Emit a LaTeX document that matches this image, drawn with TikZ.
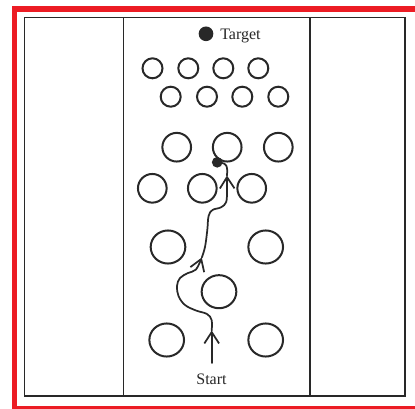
\documentclass[tikz,border=0pt]{standalone}
\usepackage{fontspec}
\setmainfont{Liberation Serif}
\usetikzlibrary{arrows.meta,shapes.geometric}
\definecolor{framered}{RGB}{236,28,36}
\definecolor{ink}{RGB}{40,40,40}
\tikzset{
  obst/.style={circle,draw=ink,line width=1.5pt,inner sep=0pt},
  bigobst/.style={ellipse,draw=ink,line width=1.5pt,inner sep=0pt,minimum width=26pt,minimum height=24.8pt},
  field/.style={draw=ink,line width=1.4pt},
  trail/.style={draw=ink,line width=1.3pt,line cap=round,line join=round},
  barb/.style={-{Straight Barb[length=8.5pt,width=11pt]}},
  lbl/.style={font=\fontsize{12pt}{14pt}\selectfont,text=ink,inner sep=0pt},
}
\begin{document}
\begin{tikzpicture}[x=0.75pt,y=-0.75pt]
\useasboundingbox (0,0) rectangle (415,408);
\clip (0,0) rectangle (415,408);
\fill[white] (0,0) rectangle (415,408);
% outer red frame
\draw[framered,line width=4.2pt] (14.5,9) rectangle (430,409);
% field and its three lanes
\draw[field] (24.5,17.5) rectangle (405,396);
\draw[field] (123.5,17.5) -- (123.5,396);
\draw[field] (310,17.5) -- (310,396);
% target marker
\node[circle,fill=ink,inner sep=0pt,minimum size=11pt] (tgt) at (206,33.8) {};
\node[lbl,anchor=base west] (tlbl) at (220,39.5) {Target};
% small cones, two staggered rows
\foreach \x [count=\i] in {152.5,188.3,223.3,258.3}
  \node[obst,minimum size=15pt] (a\i) at (\x,68.3) {};
\foreach \x [count=\i] in {170.7,207,242.3,278.3}
  \node[obst,minimum size=15pt] (b\i) at (\x,96.7) {};
% medium cones
\foreach \x [count=\i] in {176.7,227.2,278.3}
  \node[obst,minimum size=21.5pt] (c\i) at (\x,147.2) {};
\foreach \x [count=\i] in {152.3,202.3,251.7}
  \node[obst,minimum size=21.5pt] (d\i) at (\x,188.3) {};
% large cones
\node[bigobst] (e1) at (168,247) {};
\node[bigobst] (e2) at (265.7,247) {};
\node[bigobst] (f1) at (219,291.7) {};
\node[bigobst] (g1) at (166.7,340) {};
\node[bigobst] (g2) at (265.7,340) {};
% start label
\node[lbl,anchor=base] (slbl) at (211.5,384.5) {Start};
% walked trail from start to the end point
\node[circle,fill=ink,inner sep=0pt,minimum size=8pt] (hit) at (217.2,162.3) {};
\coordinate (p0) at (211.7,363);
\coordinate (p1) at (211.7,330.5);
\coordinate (p2) at (201.8,257.5);
\coordinate (p3) at (227,175.5);
\draw[trail,barb] (p0) -- (p1);
\draw[trail,barb] plot[smooth,tension=0.6] coordinates {(p1) (211.6,320) (207,314) (196,310.5) (185,305) (178.5,296) (177,286) (180,278) (188,273) (196,269.5) (201.8,257.5)};
\draw[trail,barb] plot[smooth,tension=0.6] coordinates {(p2) (205,247) (207.3,230) (208.6,216) (212.5,210) (221,207.3) (226.2,202) (227,190) (227,175.5)};
\draw[trail] plot[smooth,tension=0.6] coordinates {(p3) (227,168) (224.5,163.8) (hit.center)};
\end{tikzpicture}
\end{document}
